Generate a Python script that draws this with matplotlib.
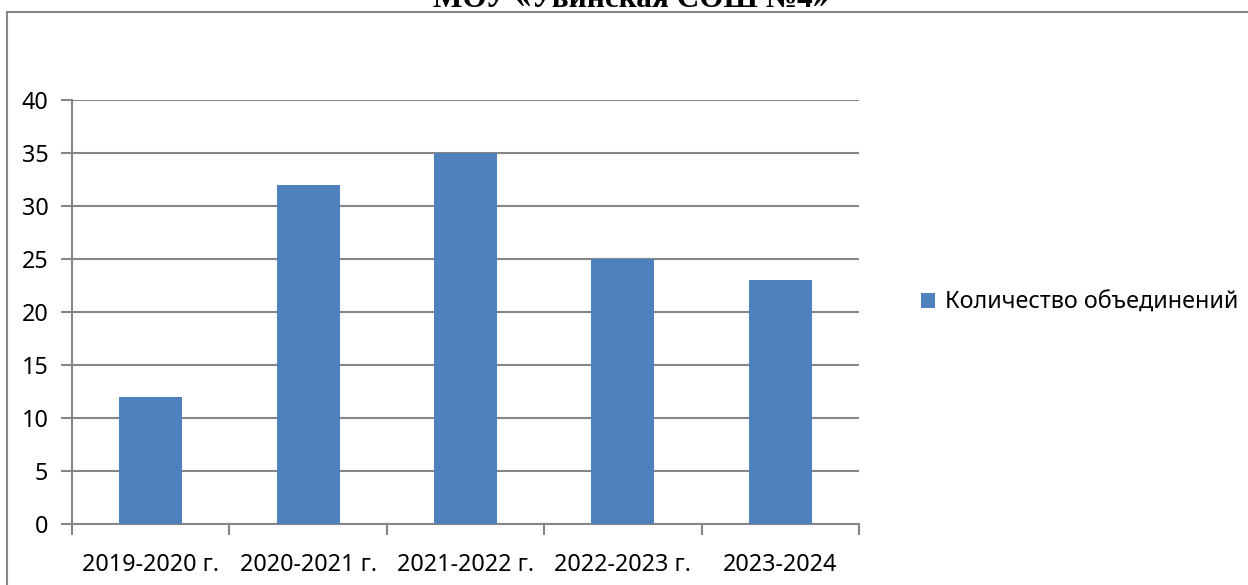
import matplotlib
matplotlib.use('Agg')
import matplotlib.pyplot as plt
from matplotlib.patches import Rectangle

# Data
years = ['2019-2020 г.', '2020-2021 г.', '2021-2022 г.', '2022-2023 г.', '2023-2024']
counts = [12, 32, 35, 25, 23]
series_name = 'Количество объединений'
title = 'МОУ «Увинская СОШ №4»'

bar_color = '#4F81BD'
grid_color = '#868686'

plt.rcParams['font.family'] = ['Noto Sans', 'DejaVu Sans']

W, H = 1248, 585
fig = plt.figure(figsize=(W / 100, H / 100), dpi=100)

# outer chart frame (continues past right and bottom edges)
fig.patches.append(Rectangle((7 / W, -0.1), 1.2, (H - 12) / H + 0.1,
                             transform=fig.transFigure, fill=False,
                             edgecolor=grid_color, linewidth=1.5))

# title, cut off at the top of the picture as in the source
fig.text(631 / W, (H - 7) / H, title, ha='center', va='baseline',
         fontsize=22.5, fontweight='bold',
         family=['Liberation Serif', 'DejaVu Serif'])

ax = fig.add_axes([72 / W, 61 / H, (859 - 72) / W, 424 / H])
x = range(len(years))
ax.bar(x, counts, width=0.4, color=bar_color, label=series_name, zorder=3)

ax.set_xlim(-0.5, len(years) - 0.5)
ax.set_ylim(0, 40)
ax.set_yticks(range(0, 41, 5))
ax.yaxis.grid(True, color=grid_color, linewidth=1.5, zorder=0)
ax.set_axisbelow(True)

ax.set_xticks(list(x))
ax.set_xticklabels(years)
ax.set_xticks([i - 0.5 for i in range(len(years) + 1)], minor=True)
ax.tick_params(axis='x', which='major', length=0, pad=21, labelsize=16.8)
ax.tick_params(axis='x', which='minor', length=8, width=1.5, color=grid_color)
ax.tick_params(axis='y', length=8, width=1.5, color=grid_color, pad=9,
               labelsize=16.8)

for side in ['top', 'right']:
    ax.spines[side].set_visible(False)
for side in ['left', 'bottom']:
    ax.spines[side].set_color(grid_color)
    ax.spines[side].set_linewidth(1.5)

leg = fig.legend(loc='center left', bbox_to_anchor=(912 / W, (H - 303) / H),
                 frameon=False, fontsize=16.8, handlelength=0.6,
                 handleheight=0.6, handletextpad=0.4, borderaxespad=0)

fig.savefig('out.png', dpi=100)
